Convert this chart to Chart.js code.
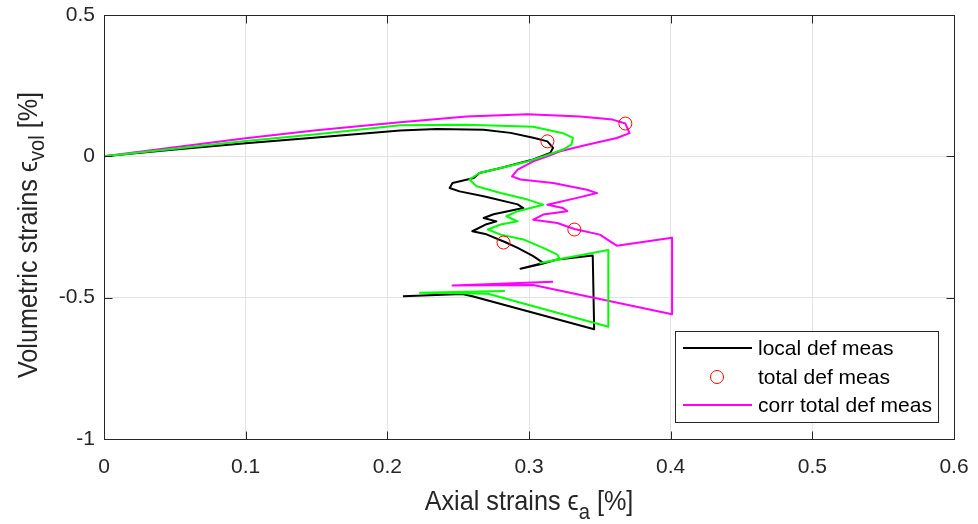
<!DOCTYPE html>
<html>
<head>
<meta charset="utf-8">
<script src="https://cdn.jsdelivr.net/npm/chart.js@4.4.1/dist/chart.umd.min.js"></script>
<style>
  html, body { margin: 0; padding: 0; background: #fff; }
  #wrap { width: 978px; height: 524px; }
</style>
</head>
<body>
<div id="wrap"><canvas id="strainChart" width="978" height="524"></canvas></div>
<script>
// axis ticks
const xTicks = [0, 0.1, 0.2, 0.3, 0.4, 0.5, 0.6];
const xTickLabels = ['0', '0.1', '0.2', '0.3', '0.4', '0.5', '0.6'];
const yTicks = [-1, -0.5, 0, 0.5];
const yTickLabels = ['-1', '-0.5', '0', '0.5'];

// local def meas (black)
const localX = [0, 0.05, 0.10, 0.15, 0.209, 0.235, 0.268, 0.287, 0.303, 0.313, 0.317, 0.315, 0.303, 0.280,
  0.265, 0.261, 0.246, 0.244, 0.251, 0.268, 0.292, 0.296, 0.275, 0.268, 0.277, 0.270, 0.260, 0.270,
  0.283, 0.292, 0.303, 0.310, 0.294, 0.308, 0.320, 0.345, 0.346, 0.260, 0.253, 0.211];
const localY = [0, 0.024, 0.046, 0.067, 0.091, 0.097, 0.094, 0.083, 0.066, 0.053, 0.030, 0.012, -0.011, -0.041,
  -0.059, -0.077, -0.094, -0.112, -0.124, -0.141, -0.170, -0.183, -0.205, -0.218, -0.230, -0.240, -0.265, -0.276,
  -0.303, -0.324, -0.353, -0.377, -0.398, -0.382, -0.365, -0.351, -0.612, -0.495, -0.487, -0.495];

// green curve (not in legend)
const greenX = [0, 0.05, 0.10, 0.15, 0.209, 0.256, 0.303, 0.324, 0.331, 0.330, 0.324, 0.310, 0.299, 0.280,
  0.265, 0.258, 0.263, 0.280, 0.299, 0.310, 0.292, 0.284, 0.292, 0.280, 0.271, 0.280, 0.296, 0.310,
  0.320, 0.322, 0.308, 0.323, 0.356, 0.356, 0.271, 0.223, 0.283];
const greenY = [0, 0.027, 0.054, 0.078, 0.110, 0.112, 0.105, 0.082, 0.065, 0.041, 0.024, 0.0, -0.018, -0.041,
  -0.059, -0.082, -0.106, -0.130, -0.153, -0.171, -0.194, -0.212, -0.230, -0.241, -0.259, -0.277, -0.294, -0.324,
  -0.348, -0.365, -0.377, -0.362, -0.331, -0.603, -0.486, -0.483, -0.476];

// total def meas (red circles)
const totalX = [0.313, 0.368, 0.282, 0.332];
const totalY = [0.053, 0.116, -0.305, -0.259];

// corr total def meas (magenta)
const corrX = [0, 0.05, 0.10, 0.15, 0.209, 0.256, 0.299, 0.336, 0.359, 0.368, 0.371, 0.362, 0.341, 0.322,
  0.313, 0.303, 0.292, 0.288, 0.294, 0.317, 0.341, 0.348, 0.334, 0.313, 0.324, 0.327, 0.310, 0.303,
  0.320, 0.332, 0.350, 0.357, 0.362, 0.401, 0.401, 0.303, 0.246, 0.317];
const corrY = [0, 0.032, 0.064, 0.092, 0.121, 0.141, 0.149, 0.141, 0.130, 0.116, 0.082, 0.065, 0.041, 0.018,
  0.0, -0.018, -0.047, -0.071, -0.082, -0.094, -0.118, -0.130, -0.147, -0.171, -0.183, -0.194, -0.206, -0.224,
  -0.236, -0.257, -0.277, -0.300, -0.316, -0.288, -0.559, -0.455, -0.457, -0.444];

const FONT = '"Liberation Sans", Arial, Helvetica, sans-serif';
const AXIS_COLOR = '#262626';

function toPoints(xs, ys) {
    return xs.map((x, i) => ({x: x, y: ys[i]}));
}

function richWidth(ctx, parts, size) {
    let w = 0;
    parts.forEach(p => {
        ctx.font = `${p.sub ? size * 0.8 : size}px ${FONT}`;
        w += ctx.measureText(p.t).width;
    });
    return w;
}

function drawRich(ctx, parts, x, y, size, subShift) {
    let cx = x;
    parts.forEach(p => {
        ctx.font = `${p.sub ? size * 0.8 : size}px ${FONT}`;
        ctx.fillText(p.t, cx, y + (p.sub ? subShift : 0));
        cx += ctx.measureText(p.t).width;
    });
}

// MATLAB-like frame: box, inner ticks, axis labels with subscripts, legend
const matlabFrame = {
    id: 'matlabFrame',
    afterDraw(chart) {
        const {ctx, chartArea: a, scales} = chart;
        const xs = scales.x, ys = scales.y;
        ctx.save();

        // box
        ctx.strokeStyle = AXIS_COLOR;
        ctx.lineWidth = 1;
        const L = Math.round(a.left) + 0.5, R = Math.round(a.right) + 0.5;
        const T = Math.round(a.top) + 0.5, B = Math.round(a.bottom) + 0.5;
        ctx.strokeRect(L, T, R - L, B - T);

        // inner ticks
        ctx.beginPath();
        xTicks.forEach(v => {
            const px = Math.round(xs.getPixelForValue(v)) + 0.5;
            ctx.moveTo(px, B); ctx.lineTo(px, B - 8);
            ctx.moveTo(px, T); ctx.lineTo(px, T + 8);
        });
        yTicks.forEach(v => {
            const py = Math.round(ys.getPixelForValue(v)) + 0.5;
            ctx.moveTo(L, py); ctx.lineTo(L + 8, py);
            ctx.moveTo(R, py); ctx.lineTo(R - 8, py);
        });
        ctx.stroke();

        // axis titles
        ctx.fillStyle = AXIS_COLOR;
        ctx.textBaseline = 'alphabetic';
        ctx.textAlign = 'left';
        const size = 28, squeeze = 0.9;

        const xParts = [{t: 'Axial strains '}, {t: '\u03F5'}, {t: 'a', sub: true}, {t: ' [%]'}];
        ctx.save();
        ctx.translate((a.left + a.right) / 2, 510);
        ctx.scale(squeeze, 1);
        drawRich(ctx, xParts, -richWidth(ctx, xParts, size) / 2, 0, size, 9);
        ctx.restore();

        const yParts = [{t: 'Volumetric strains '}, {t: '\u03F5'}, {t: 'vol', sub: true}, {t: ' [%]'}];
        ctx.save();
        ctx.translate(37, (a.top + a.bottom) / 2 + 8);
        ctx.rotate(-Math.PI / 2);
        ctx.scale(squeeze, 1);
        drawRich(ctx, yParts, -richWidth(ctx, yParts, size) / 2, 0, size, 7);
        ctx.restore();

        // legend box
        ctx.fillStyle = '#ffffff';
        ctx.fillRect(675.5, 331.5, 263, 91);
        ctx.strokeStyle = AXIS_COLOR;
        ctx.strokeRect(675.5, 331.5, 263, 91);

        const rows = [348, 377, 405];
        ctx.lineWidth = 2;
        ctx.strokeStyle = '#000000';
        ctx.beginPath(); ctx.moveTo(683, rows[0]); ctx.lineTo(752, rows[0]); ctx.stroke();
        ctx.lineWidth = 1;
        ctx.strokeStyle = '#ff0000';
        ctx.beginPath(); ctx.arc(717, rows[1], 6.5, 0, Math.PI * 2); ctx.stroke();
        ctx.lineWidth = 2;
        ctx.strokeStyle = '#ff00ff';
        ctx.beginPath(); ctx.moveTo(683, rows[2]); ctx.lineTo(752, rows[2]); ctx.stroke();

        ctx.fillStyle = '#000000';
        ctx.font = `21px ${FONT}`;
        ctx.textBaseline = 'middle';
        ['local def meas', 'total def meas', 'corr total def meas'].forEach((s, i) => {
            ctx.fillText(s, 758, rows[i] + 1);
        });

        ctx.restore();
    }
};

const ctx = document.getElementById('strainChart').getContext('2d');
const strainChart = new Chart(ctx, {
    type: 'scatter',
    data: {
        datasets: [{
            label: 'total def meas',
            data: toPoints(totalX, totalY),
            showLine: false,
            pointStyle: 'circle',
            pointRadius: 6.5,
            pointBorderWidth: 1,
            pointBorderColor: '#ff0000',
            pointBackgroundColor: 'rgba(0,0,0,0)',
            order: 0
        }, {
            label: 'green',
            data: toPoints(greenX, greenY),
            showLine: true,
            borderColor: '#00ff00',
            borderWidth: 2,
            pointRadius: 0,
            order: 1
        }, {
            label: 'corr total def meas',
            data: toPoints(corrX, corrY),
            showLine: true,
            borderColor: '#ff00ff',
            borderWidth: 2,
            pointRadius: 0,
            order: 2
        }, {
            label: 'local def meas',
            data: toPoints(localX, localY),
            showLine: true,
            borderColor: '#000000',
            borderWidth: 2,
            pointRadius: 0,
            order: 3
        }]
    },
    options: {
        responsive: false,
        animation: false,
        devicePixelRatio: 1,
        layout: {
            padding: {left: 0, right: 24, top: 15, bottom: 0}
        },
        plugins: {
            legend: {display: false},
            tooltip: {enabled: false}
        },
        elements: {
            line: {tension: 0, borderJoinStyle: 'round'}
        },
        scales: {
            x: {
                type: 'linear',
                min: 0,
                max: 0.6,
                afterBuildTicks: axis => { axis.ticks = xTicks.map(v => ({value: v})); },
                afterFit: axis => {
                    axis.height = 85;
                    axis.paddingLeft = 0;
                    axis.paddingRight = 0;
                },
                grid: {color: '#e3e3e3', drawTicks: false},
                border: {display: false},
                ticks: {
                    padding: 16,
                    color: AXIS_COLOR,
                    font: {family: FONT, size: 21},
                    maxRotation: 0,
                    callback: (v, i) => xTickLabels[i]
                }
            },
            y: {
                type: 'linear',
                min: -1,
                max: 0.5,
                afterBuildTicks: axis => { axis.ticks = yTicks.map(v => ({value: v})); },
                afterFit: axis => {
                    axis.width = 104;
                    axis.paddingTop = 0;
                    axis.paddingBottom = 0;
                },
                grid: {color: '#e3e3e3', drawTicks: false},
                border: {display: false},
                ticks: {
                    padding: 9,
                    color: AXIS_COLOR,
                    font: {family: FONT, size: 21},
                    callback: (v, i) => yTickLabels[i]
                }
            }
        }
    },
    plugins: [matlabFrame]
});
</script>
</body>
</html>
